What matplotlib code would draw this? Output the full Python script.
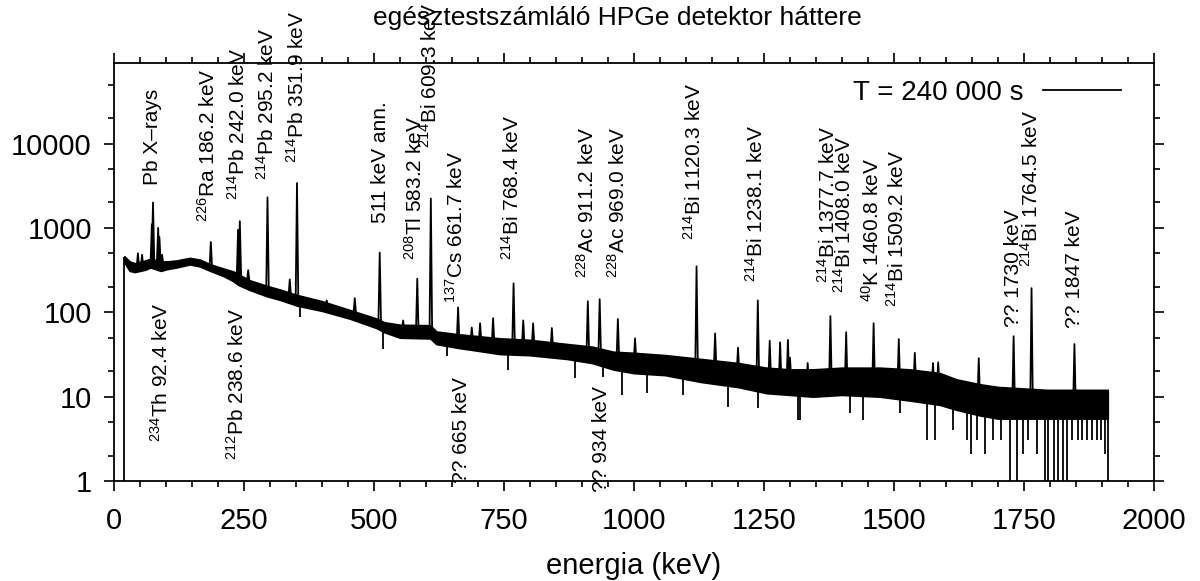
import numpy as np
import matplotlib
matplotlib.use('Agg')
import matplotlib.pyplot as plt
from matplotlib.lines import Line2D
from matplotlib.ticker import MultipleLocator, LogLocator, NullFormatter

plt.rcParams['font.family'] = ['Liberation Sans', 'DejaVu Sans']
plt.rcParams['mathtext.fontset'] = 'custom'
plt.rcParams['mathtext.rm'] = 'Liberation Sans'
plt.rcParams['mathtext.it'] = 'Liberation Sans:italic'
plt.rcParams['mathtext.bf'] = 'Liberation Sans:bold'

# background continuum: lower / upper edge of the noisy band (counts per channel)
cont_e = [20, 30, 40, 60, 70, 90, 102, 120, 146, 165, 185, 210, 229, 240, 260,
          294, 320, 352, 400, 454, 505, 520, 550, 608, 620, 660, 700, 742, 800,
          871, 920, 960, 1000, 1060, 1127, 1200, 1255, 1300, 1344, 1400, 1473,
          1530, 1588, 1620, 1665, 1700, 1794, 1850, 1911]
cont_lo = [390, 310, 300, 320, 340, 310, 325, 340, 370, 350, 310, 270, 235, 210, 185,
           155, 140, 120, 104, 84, 65, 58, 50, 49, 42, 38, 35, 32, 31,
           28, 25, 21, 19, 18, 15, 13, 11, 10.5, 10, 10.5, 10,
           9, 8, 7, 6, 5.5, 5.5, 5.5, 5.5]
cont_hi = [460, 400, 380, 410, 430, 400, 400, 410, 440, 420, 370, 330, 305, 280, 240,
           205, 185, 160, 135, 106, 84, 76, 71, 70, 59, 55, 52, 49, 47,
           42, 39, 34, 33, 31, 28, 25, 22, 21, 21, 22, 22,
           21, 19, 16, 14, 13, 12, 12, 12]

# peaks and single upward channels: energy (keV), height, continuum under it
peak_e = [46, 54, 72.8, 75.0, 84.9, 87.3, 92.5, 186.2, 238.6, 242.0, 258, 295.2,
          338, 351.9, 409, 463, 511, 556, 583.2, 609.3, 661.7, 688, 704, 729,
          768.4, 787, 806, 842, 911.2, 934, 969.0, 1002, 1120.3, 1156, 1200,
          1238.1, 1261, 1281, 1296, 1300, 1334, 1377.7, 1408.0, 1460.8, 1509.2,
          1540, 1575, 1585, 1610, 1663, 1730, 1764.5, 1847]
peak_top = [500, 480, 1100, 2000, 1000, 780, 480, 680, 950, 1200, 315, 2300,
            245, 3400, 138, 147, 510, 80, 250, 2230, 114, 66, 74, 85,
            220, 80, 74, 65, 135, 143, 83, 49, 350, 56, 38,
            138, 46, 44, 47, 29, 25, 90, 58, 74, 48,
            33, 25, 25.5, 16, 28.5, 52, 193, 42]
peak_base = [330, 330, 380, 380, 380, 380, 350, 330, 260, 260, 230, 180,
             150, 145, 120, 95, 75, 60, 58, 58, 45, 44, 44, 42,
             40, 40, 39, 36, 32, 31, 28, 26, 22, 21, 19,
             17, 16, 15, 15, 15, 14, 14, 14, 14, 14,
             14, 13, 13, 11, 9, 8, 8, 8]

# single channels falling well below the band (1 = empty channel)
dip_e = [358, 518, 640, 758, 886, 941, 977, 1025, 1095, 1181, 1238, 1316, 1319,
         1415, 1441, 1511, 1563, 1579, 1614, 1640, 1648, 1660, 1675, 1691, 1705,
         1723, 1736, 1749, 1758, 1775, 1790, 1796, 1808, 1815, 1825, 1833, 1842,
         1854, 1862, 1871, 1880, 1890, 1898, 1906]
dip_lo = [87, 37, 30, 20.5, 16.6, 17, 10.4, 11, 10.4, 7.5, 7.3, 5.3, 5.3,
          6.4, 5.3, 6.4, 3.1, 3.1, 4, 3.1, 2.1, 3.1, 2.1, 3.1, 3.1,
          1, 1, 2.1, 3.1, 2.1, 1, 1, 1, 1, 1, 1, 3.1,
          3.1, 3.1, 3.1, 3.1, 3.1, 3.1, 2.1]
dip_top = [140, 70, 50, 40, 35, 32, 28, 27, 25, 20, 18, 15, 15,
           15, 15, 15, 14, 13, 11, 10, 10, 9, 9, 9, 9,
           8, 8, 8, 8, 8, 8, 8, 8, 8, 8, 8, 8,
           8, 8, 8, 8, 8, 8, 8]

# spectrum edges: first and last channel
start_e, start_top = 19, 450
end_e, end_top = 1911, 12

# line labels: text, energy, count level of the label's lower end
label_txt = ['Pb X–rays', r'$^{226}$Ra 186.2 keV', r'$^{214}$Pb 242.0 keV',
             r'$^{214}$Pb 295.2 keV', r'$^{214}$Pb 351.9 keV', '511 keV ann.',
             r'$^{208}$Tl 583.2 keV', r'$^{214}$Bi 609.3 keV', r'$^{137}$Cs 661.7 keV',
             r'$^{214}$Bi 768.4 keV', r'$^{228}$Ac 911.2 keV', r'$^{228}$Ac 969.0 keV',
             r'$^{214}$Bi 1120.3 keV', r'$^{214}$Bi 1238.1 keV', r'$^{214}$Bi 1377.7 keV',
             r'$^{214}$Bi 1408.0 keV', r'$^{40}$K 1460.8 keV', r'$^{214}$Bi 1509.2 keV',
             '?? 1730 keV', r'$^{214}$Bi 1764.5 keV', '?? 1847 keV',
             r'$^{234}$Th 92.4 keV', r'$^{212}$Pb 238.6 keV', '?? 665 keV', '?? 934 keV']
label_e = [75, 181, 238, 294, 352, 513, 579, 608, 658, 766, 909, 968, 1115, 1235,
           1373, 1404, 1458, 1506, 1729, 1763, 1848, 90, 236, 668, 937]
label_y = [3185, 1160, 2115, 3650, 5800, 1130, 412, 8950, 128, 412, 253, 253, 711,
           226, 220, 168, 131, 115, 66, 341, 65, 2.9, 1.77, 0.95, 0.74]

fig = plt.figure(figsize=(12, 5.81), dpi=100)
ax = fig.add_axes([114 / 1200, 1 - 481 / 581, 1040 / 1200, 418 / 581])

lw = 1.3
ax.fill_between(cont_e, cont_lo, cont_hi, color='black', lw=lw)

px, py = [], []
for e, top, base in zip(peak_e, peak_top, peak_base):
    px += [e - 2.5, e, e + 2.5, np.nan]
    py += [base, top, base, np.nan]
ax.plot(px, py, color='black', lw=lw)

ax.vlines(dip_e, dip_lo, dip_top, color='black', lw=lw)
ax.vlines([start_e, end_e], [1, 1], [start_top, end_top], color='black', lw=lw)

for txt, e, yv in zip(label_txt, label_e, label_y):
    ax.text(e, yv, txt, rotation=90, ha='center', va='bottom', fontsize=15)

ax.set_yscale('log')
ax.set_xlim(0, 2000)
ax.set_ylim(1, 90000)
ax.xaxis.set_major_locator(MultipleLocator(250))
ax.xaxis.set_minor_locator(MultipleLocator(50))
ax.set_yticks([1, 10, 100, 1000, 10000])
ax.set_yticklabels(['1', '10', '100', '1000', '10000'])
ax.yaxis.set_minor_locator(LogLocator(base=10, subs=(2.0, 5.0)))
ax.yaxis.set_minor_formatter(NullFormatter())
ax.tick_params(which='both', direction='out', top=True, right=True, width=1.2,
               labelsize=21)
ax.tick_params(which='major', length=7)
ax.tick_params(axis='x', which='major', pad=12)
ax.tick_params(axis='y', which='major', pad=9)
ax.tick_params(which='minor', length=4)
for s in ax.spines.values():
    s.set_linewidth(1.3)

ax.set_xlabel('energia (keV)', fontsize=21, labelpad=12)
fig.text(617 / 1200, 1 - 18 / 581, 'egésztestszámláló HPGe detektor háttere',
         ha='center', va='center', fontsize=19)

ax.legend(handles=[Line2D([], [], color='black', lw=lw)], labels=['T = 240 000 s'],
          loc='upper right', bbox_to_anchor=(0.992, 1.02), frameon=False,
          markerfirst=False, fontsize=20, handlelength=2.8, handletextpad=0.7)

fig.savefig('out.png', dpi=100)
